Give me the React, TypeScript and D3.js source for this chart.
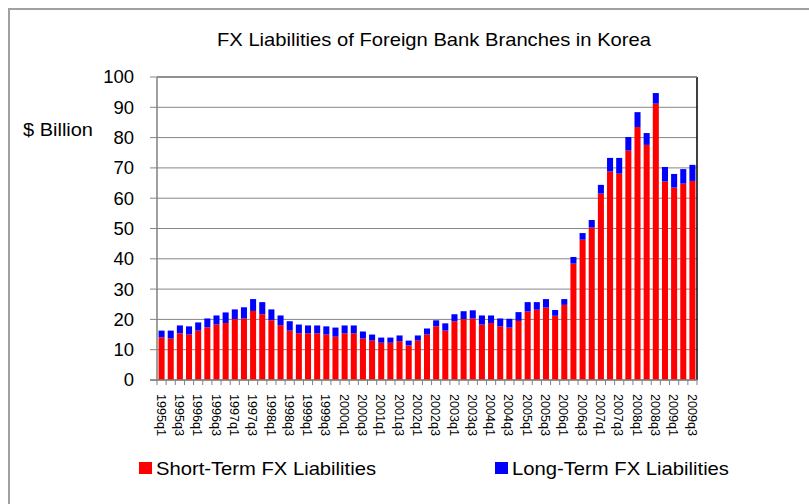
import * as d3 from "d3";

const quarters = [
  "1995q1", "1995q2", "1995q3", "1995q4", "1996q1", "1996q2", "1996q3", "1996q4",
  "1997q1", "1997q2", "1997q3", "1997q4", "1998q1", "1998q2", "1998q3", "1998q4",
  "1999q1", "1999q2", "1999q3", "1999q4", "2000q1", "2000q2", "2000q3", "2000q4",
  "2001q1", "2001q2", "2001q3", "2001q4", "2002q1", "2002q2", "2002q3", "2002q4",
  "2003q1", "2003q2", "2003q3", "2003q4", "2004q1", "2004q2", "2004q3", "2004q4",
  "2005q1", "2005q2", "2005q3", "2005q4", "2006q1", "2006q2", "2006q3", "2006q4",
  "2007q1", "2007q2", "2007q3", "2007q4", "2008q1", "2008q2", "2008q3", "2008q4",
  "2009q1", "2009q2", "2009q3",
];

// $ billion
const shortTerm = [
  14.1, 13.7, 15.4, 15.0, 16.3, 17.4, 18.3, 18.8, 20.1, 20.3, 22.8, 21.7, 19.7, 18.1, 16.3, 15.4,
  15.4, 15.4, 15.0, 14.3, 15.4, 15.4, 13.7, 13.0, 12.3, 12.3, 12.8, 11.4, 13.0, 15.0, 17.7, 16.3,
  19.4, 20.1, 20.3, 18.3, 18.8, 17.7, 17.3, 19.5, 22.6, 23.2, 23.9, 21.2, 24.8, 38.4, 46.3, 50.3,
  61.5, 68.8, 68.1, 75.7, 83.5, 77.6, 91.2, 65.5, 63.5, 64.8, 65.7,
];
const longTerm = [
  2.2, 2.6, 2.6, 2.7, 2.7, 2.9, 3.0, 3.5, 3.2, 3.7, 3.9, 4.0, 3.6, 3.2, 3.1, 2.9,
  2.6, 2.6, 2.7, 3.0, 2.6, 2.6, 2.3, 2.0, 1.7, 1.7, 1.9, 1.6, 1.7, 2.0, 2.0, 2.4,
  2.3, 2.6, 2.7, 3.0, 2.5, 2.6, 2.9, 2.9, 3.1, 2.5, 2.8, 1.9, 1.9, 2.2, 2.2, 2.5,
  2.9, 4.5, 5.2, 4.5, 4.9, 3.9, 3.5, 4.8, 4.5, 4.8, 5.3,
];
const yTicks = [0, 10, 20, 30, 40, 50, 60, 70, 80, 90, 100];
const seriesNames = ["Short-Term FX Liabilities", "Long-Term FX Liabilities"];
const seriesColors = ["#ff0000", "#0000ff"];

const FONT = "'Liberation Sans', Arial, sans-serif";

export default function App() {
  const left = 157;
  const right = 697;
  const top = 77;
  const bottom = 380;

  const x = d3
    .scaleBand()
    .domain(quarters)
    .range([left, right])
    .paddingInner(0.34)
    .paddingOuter(0.17);
  const y = d3.scaleLinear().domain([0, 100]).range([bottom, top]);

  const rows = quarters.map((q, i) => ({ q, s: shortTerm[i], l: longTerm[i] }));
  const stacked = d3.stack<any>().keys(["s", "l"])(rows);

  const step = x.step();

  return (
    <svg
      width={809}
      height={504}
      style={{ position: "absolute", left: 0, top: 0, background: "#fff" }}
      fontFamily={FONT}
    >
      {/* outer frame */}
      <path d="M9,504 L9,9 L809,9" fill="none" stroke="#a0a0a0" strokeWidth={2} />

      <text
        x={217}
        y={46}
        fontSize={18.5}
        fill="#000"
        textLength={434}
        lengthAdjust="spacingAndGlyphs"
      >
        FX Liabilities of Foreign Bank Branches in Korea
      </text>
      <text x={23} y={136} fontSize={18.5} fill="#000" textLength={70} lengthAdjust="spacingAndGlyphs">
        $ Billion
      </text>

      {/* gridlines + y labels */}
      {yTicks.map((t) => (
        <g key={t}>
          <line x1={left - 7} x2={right} y1={y(t)} y2={y(t)} stroke="#868686" strokeWidth={1} />
          <text x={134} y={y(t)} dy="0.35em" textAnchor="end" fontSize={18.5} fill="#000">
            {t}
          </text>
        </g>
      ))}

      {/* bars */}
      {stacked.map((layer, k) => (
        <g key={k} fill={seriesColors[k]}>
          {layer.map((d, i) => (
            <rect
              key={i}
              x={x(quarters[i])}
              width={x.bandwidth()}
              y={y(d[1])}
              height={y(d[0]) - y(d[1])}
            />
          ))}
        </g>
      ))}

      {/* axes */}
      <line x1={left} x2={left} y1={top} y2={bottom} stroke="#808080" strokeWidth={1.5} />
      <line x1={right} x2={right} y1={top} y2={bottom} stroke="#000" strokeWidth={1.5} />
      <line x1={left} x2={right} y1={top} y2={top} stroke="#808080" strokeWidth={1.5} />
      <line x1={left - 7} x2={right} y1={bottom} y2={bottom} stroke="#808080" strokeWidth={1.5} />
      {d3.range(quarters.length + 1).map((i) => (
        <line
          key={i}
          x1={left + i * step}
          x2={left + i * step}
          y1={bottom}
          y2={bottom + 5}
          stroke="#808080"
          strokeWidth={1}
        />
      ))}

      {/* x labels, every other quarter */}
      {quarters.map((q, i) =>
        i % 2 === 0 ? (
          <text
            key={q}
            transform={`translate(${(x(q) ?? 0) + x.bandwidth() / 2},394) rotate(90)`}
            dy="0.36em"
            fontSize={13.5}
            fill="#000"
            textLength={42}
            lengthAdjust="spacingAndGlyphs"
          >
            {q}
          </text>
        ) : null
      )}

      {/* legend */}
      {seriesNames.map((n, k) => (
        <g key={n} transform={`translate(${k === 0 ? 139 : 495},462)`}>
          <rect width={13} height={12} fill={seriesColors[k]} />
          <text
            x={17}
            y={12.5}
            fontSize={18.5}
            fill="#000"
            textLength={k === 0 ? 220 : 217}
            lengthAdjust="spacingAndGlyphs"
          >
            {n}
          </text>
        </g>
      ))}
    </svg>
  );
}
